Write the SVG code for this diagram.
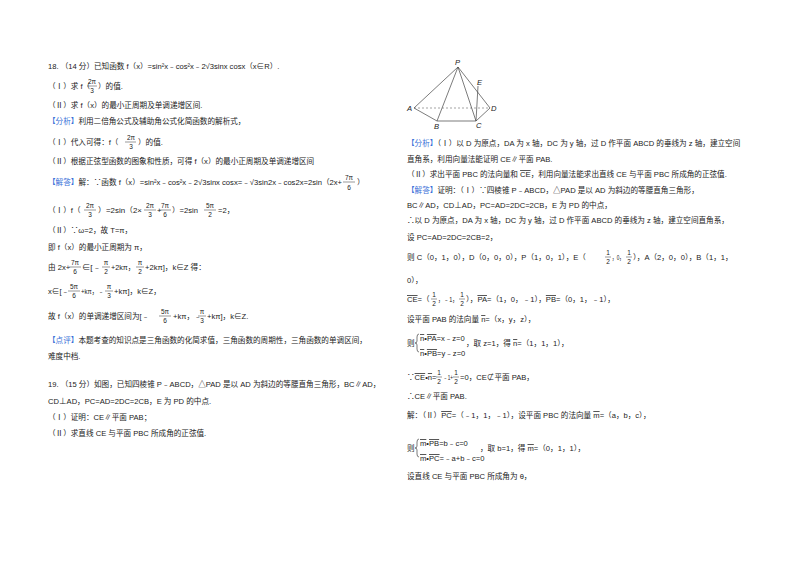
<svg xmlns="http://www.w3.org/2000/svg" width="800" height="566" viewBox="0 0 800 566">
<style>
text{font-family:"Liberation Sans","Noto Sans CJK SC",sans-serif;font-size:7.6px;fill:#222}
.b{fill:#3a6fd8}
.f{font-size:6.5px;text-anchor:middle}
.fl{stroke:#333;stroke-width:0.5}
.g{stroke:#444;stroke-width:0.7;fill:none}
.v{text-decoration:overline}
</style>
<rect width="800" height="566" fill="#fff"/>
<g id="left">
<text x="48" y="69">18. （14 分）已知函数 f（x）=sin²x﹣cos²x﹣2√3sinx cosx（x∈R）.</text>
<text x="48" y="89">（Ⅰ）求 f（</text><text x="98" y="89">）的值.</text>
<text class="f" x="92" y="84">2π</text><line class="fl" x1="87" y1="86" x2="97" y2="86"/><text class="f" x="92" y="93">3</text>
<text x="48" y="108">（Ⅱ）求 f（x）的最小正周期及单调递增区间.</text>
<text x="48" y="124"><tspan class="b">【分析】</tspan>利用二倍角公式及辅助角公式化简函数的解析式，</text>
<text x="48" y="145">（Ⅰ）代入可得：f（</text><text x="138" y="145">）的值.</text>
<text class="f" x="131" y="140">2π</text><line class="fl" x1="125" y1="142" x2="136" y2="142"/><text class="f" x="131" y="149">3</text>
<text x="48" y="164">（Ⅱ）根据正弦型函数的图象和性质，可得 f（x）的最小正周期及单调递增区间</text>
<text x="48" y="185" textLength="294" lengthAdjust="spacingAndGlyphs"><tspan class="b">【解答】</tspan>解：∵函数 f（x）=sin²x﹣cos²x﹣2√3sinx cosx=﹣√3sin2x﹣cos2x=2sin（2x+</text>
<text x="357" y="185">）</text>
<text class="f" x="349" y="180">7π</text><line class="fl" x1="343" y1="182" x2="355" y2="182"/><text class="f" x="349" y="190">6</text>
<text x="48" y="213">（Ⅰ）f（</text><text x="98" y="213" textLength="44" lengthAdjust="spacingAndGlyphs">）=2sin（2×</text><text x="157" y="213">+</text><text x="172" y="213">）=2sin</text><text x="218" y="213">=2，</text>
<text class="f" x="90" y="208">2π</text><line class="fl" x1="84" y1="210" x2="96" y2="210"/><text class="f" x="90" y="217">3</text>
<text class="f" x="150" y="208">2π</text><line class="fl" x1="144" y1="210" x2="156" y2="210"/><text class="f" x="150" y="217">3</text>
<text class="f" x="165" y="208">7π</text><line class="fl" x1="159" y1="210" x2="171" y2="210"/><text class="f" x="165" y="217">6</text>
<text class="f" x="210" y="208">5π</text><line class="fl" x1="204" y1="210" x2="216" y2="210"/><text class="f" x="210" y="217">2</text>
<text x="48" y="233">（Ⅱ）∵ω=2，故 T=π，</text>
<text x="48" y="250">即 f（x）的最小正周期为 π，</text>
<text x="48" y="270">由 2x+</text><text x="82" y="270" textLength="19" lengthAdjust="spacingAndGlyphs">∈[﹣</text><text x="111" y="270" textLength="24" lengthAdjust="spacingAndGlyphs">+2kπ，</text><text x="145" y="270">+2kπ]，k∈Z 得：</text>
<text class="f" x="75" y="265">7π</text><line class="fl" x1="69" y1="267" x2="81" y2="267"/><text class="f" x="75" y="274">6</text>
<text class="f" x="106" y="265">π</text><line class="fl" x1="102" y1="267" x2="110" y2="267"/><text class="f" x="106" y="274">2</text>
<text class="f" x="140" y="265">π</text><line class="fl" x1="136" y1="267" x2="144" y2="267"/><text class="f" x="140" y="274">2</text>
<text x="48" y="294">x∈[﹣</text><text x="81" y="294" textLength="23" lengthAdjust="spacingAndGlyphs">+kπ，﹣</text><text x="114" y="294">+kπ]，k∈Z，</text>
<text class="f" x="74" y="289">5π</text><line class="fl" x1="68" y1="291" x2="80" y2="291"/><text class="f" x="74" y="298">6</text>
<text class="f" x="109" y="289">π</text><line class="fl" x1="105" y1="291" x2="113" y2="291"/><text class="f" x="109" y="298">3</text>
<text x="48" y="319">故 f（x）的单调递增区间为[﹣</text><text x="173" y="319">+kπ，﹣</text><text x="207" y="319">+kπ]，k∈Z.</text>
<text class="f" x="165" y="314">5π</text><line class="fl" x1="159" y1="316" x2="171" y2="316"/><text class="f" x="165" y="323">6</text>
<text class="f" x="202" y="314">π</text><line class="fl" x1="198" y1="316" x2="206" y2="316"/><text class="f" x="202" y="323">3</text>
<text x="48" y="343"><tspan class="b">【点评】</tspan>本题考查的知识点是三角函数的化简求值，三角函数的周期性，三角函数的单调区间，</text>
<text x="48" y="359">难度中档.</text>
<text x="48" y="387">19. （15 分）如图，已知四棱锥 P﹣ABCD，△PAD 是以 AD 为斜边的等腰直角三角形，BC∥AD，</text>
<text x="48" y="404">CD⊥AD，PC=AD=2DC=2CB，E 为 PD 的中点.</text>
<text x="48" y="420">（Ⅰ）证明：CE∥平面 PAB；</text>
<text x="48" y="436">（Ⅱ）求直线 CE 与平面 PBC 所成角的正弦值.</text>
</g>
<g id="figure">
<path class="g" d="M458,67 L414,108 L437,121 L476,121 L490,108 Z M458,67 L437,121 M458,67 L476,121 M478,86 L476,121"/>
<line x1="414" y1="108" x2="490" y2="108" stroke="#666" stroke-width="0.6" stroke-dasharray="2,2"/>
<text x="455" y="65" font-style="italic">P</text>
<text x="407" y="111" font-style="italic">A</text>
<text x="491" y="111" font-style="italic">D</text>
<text x="434" y="129" font-style="italic">B</text>
<text x="476" y="128" font-style="italic">C</text>
<text x="477" y="85" font-style="italic">E</text>
</g>
<g id="right">
<text x="407" y="146"><tspan class="b">【分析】</tspan>（Ⅰ）以 D 为原点，DA 为 x 轴，DC 为 y 轴，过 D 作平面 ABCD 的垂线为 z 轴，建立空间</text>
<text x="407" y="162">直角系，利用向量法能证明 CE∥平面 PAB.</text>
<text x="407" y="177">（Ⅱ）求出平面 PBC 的法向量和 <tspan class="v">CE</tspan>，利用向量法能求出直线 CE 与平面 PBC 所成角的正弦值.</text>
<text x="407" y="193"><tspan class="b">【解答】</tspan>证明：（Ⅰ）∵四棱锥 P﹣ABCD，△PAD 是以 AD 为斜边的等腰直角三角形，</text>
<text x="407" y="208">BC∥AD，CD⊥AD，PC=AD=2DC=2CB，E 为 PD 的中点，</text>
<text x="407" y="223">∴以 D 为原点，DA 为 x 轴，DC 为 y 轴，过 D 作平面 ABCD 的垂线为 z 轴，建立空间直角系，</text>
<text x="407" y="240">设 PC=AD=2DC=2CB=2，</text>
<text x="407" y="260">则 C（0，1，0），D（0，0，0），P（1，0，1），E（</text><text x="612" y="260" textLength="12" lengthAdjust="spacingAndGlyphs">，0，</text><text x="633" y="260">），A（2，0，0），B（1，1，</text>
<text class="f" x="608" y="255">1</text><line class="fl" x1="605" y1="257" x2="611" y2="257"/><text class="f" x="608" y="264">2</text>
<text class="f" x="629" y="255">1</text><line class="fl" x1="626" y1="257" x2="632" y2="257"/><text class="f" x="629" y="264">2</text>
<text x="407" y="283">0），</text>
<text x="407" y="302"><tspan class="v">CE</tspan>=（</text><text x="438" y="302" textLength="20" lengthAdjust="spacingAndGlyphs">，﹣1，</text><text x="466" y="302">），<tspan class="v">PA</tspan>=（1，0，﹣1），<tspan class="v">PB</tspan>=（0，1，﹣1），</text>
<text class="f" x="434" y="297">1</text><line class="fl" x1="431" y1="299" x2="437" y2="299"/><text class="f" x="434" y="306">2</text>
<text class="f" x="462" y="297">1</text><line class="fl" x1="459" y1="299" x2="465" y2="299"/><text class="f" x="462" y="306">2</text>
<text x="407" y="322">设平面 PAB 的法向量 <tspan class="v">n</tspan>=（x，y，z），</text>
<text x="407" y="346">则</text>
<path class="g" d="M419,334 q-2,0 -2,3 v4 q0,2 -2,2 q2,0 2,2 v4 q0,3 2,3"/>
<text x="420" y="341"><tspan class="v">n</tspan>•<tspan class="v">PA</tspan>=x﹣z=0</text>
<text x="420" y="356"><tspan class="v">n</tspan>•<tspan class="v">PB</tspan>=y﹣z=0</text>
<text x="466" y="346">，取 z=1，得 <tspan class="v">n</tspan>=（1，1，1），</text>
<text x="407" y="380">∵<tspan class="v">CE</tspan>•<tspan class="v">n</tspan>=</text><text x="443" y="380" textLength="10" lengthAdjust="spacingAndGlyphs">﹣1+</text><text x="460" y="380">=0，CE⊄平面 PAB，</text>
<text class="f" x="439" y="375">1</text><line class="fl" x1="436" y1="377" x2="442" y2="377"/><text class="f" x="439" y="384">2</text>
<text class="f" x="456" y="375">1</text><line class="fl" x1="453" y1="377" x2="459" y2="377"/><text class="f" x="456" y="384">2</text>
<text x="407" y="399">∴CE∥平面 PAB.</text>
<text x="407" y="418">解：（Ⅱ）<tspan class="v">PC</tspan>=（﹣1，1，﹣1），设平面 PBC 的法向量 <tspan class="v">m</tspan>=（a，b，c），</text>
<text x="407" y="451">则</text>
<path class="g" d="M419,439 q-2,0 -2,3 v4 q0,2 -2,2 q2,0 2,2 v4 q0,3 2,3"/>
<text x="420" y="446"><tspan class="v">m</tspan>•<tspan class="v">PB</tspan>=b﹣c=0</text>
<text x="420" y="461"><tspan class="v">m</tspan>•<tspan class="v">PC</tspan>=﹣a+b﹣c=0</text>
<text x="480" y="451">，取 b=1，得 <tspan class="v">m</tspan>=（0，1，1），</text>
<text x="407" y="479">设直线 CE 与平面 PBC 所成角为 θ，</text>
</g>
</svg>
